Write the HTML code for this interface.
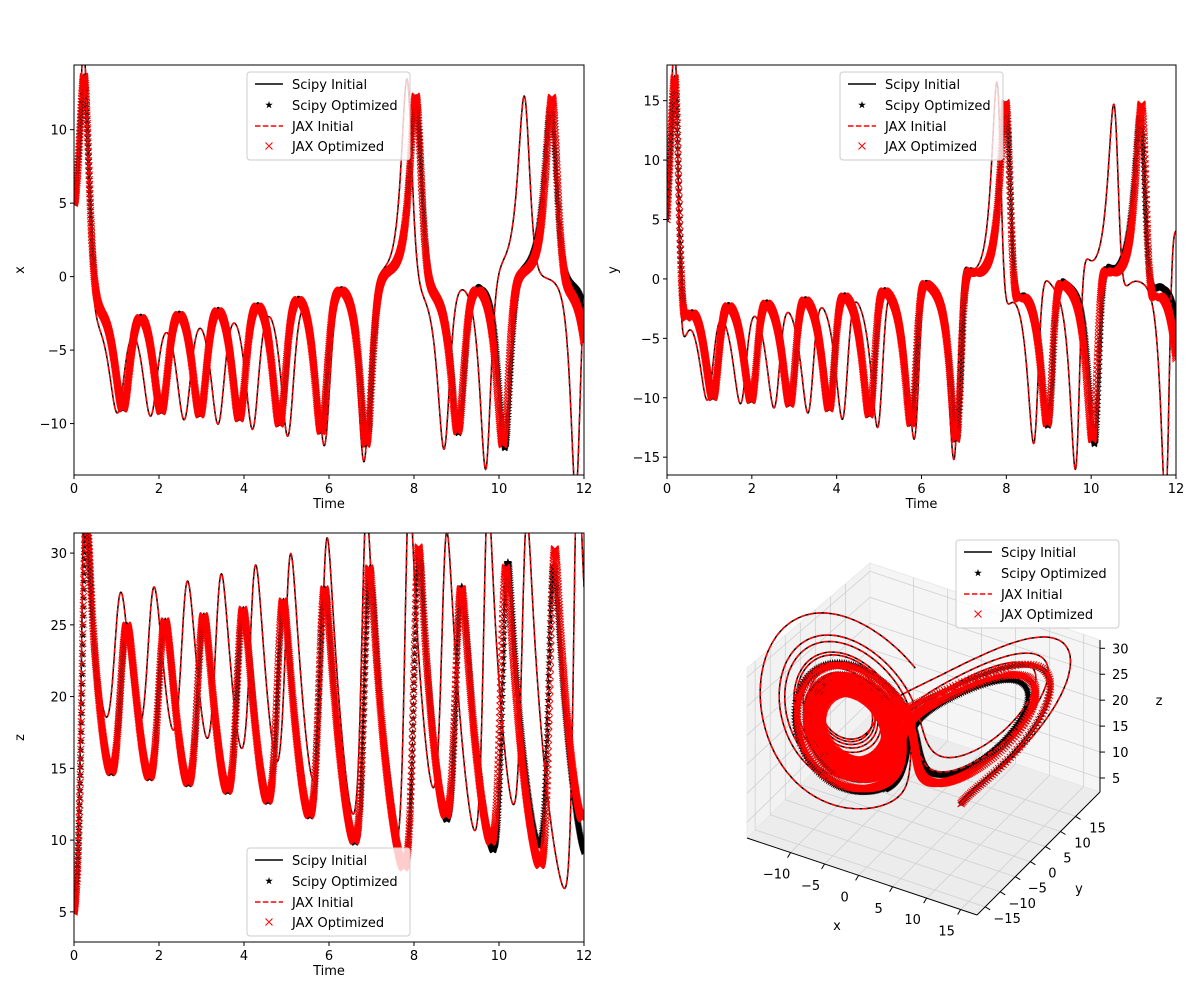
<!DOCTYPE html>
<html><head><meta charset="utf-8">
<style>
html,body{margin:0;padding:0;background:#fff;}
svg{display:block;font-family:"DejaVu Sans","Liberation Sans",sans-serif;}
</style></head>
<body>
<svg id="fig" width="1200" height="1000" viewBox="0 0 1200 1000" xmlns="http://www.w3.org/2000/svg"></svg>
<script>
// ---- data (model parameters and time grid) ----
const timeSpan = [0, 12];
const sampleStep = [0.004];
const initialState = [5, 5, 5];
const initialParams = [10, 24, 2.0];
const scipyOptParams = [10, 21.0, 1.8];
const jaxOptParams = [10, 21.05, 1.8];
const seriesNames = ["Scipy Initial", "Scipy Optimized", "JAX Initial", "JAX Optimized"];
const timeTicks = [0, 2, 4, 6, 8, 10, 12];
const xTicks = [-10, -5, 0, 5, 10];
const yTicks = [-15, -10, -5, 0, 5, 10, 15];
const zTicks = [5, 10, 15, 20, 25, 30];
const x3Ticks = [-10, -5, 0, 5, 10, 15];
const y3Ticks = [-15, -10, -5, 0, 5, 10, 15];
const z3Ticks = [5, 10, 15, 20, 25, 30];

function simulate(p, s0) {
  const [sg, rh, bt] = p;
  const f = (s) => [sg*(s[1]-s[0]), s[0]*(rh-s[2])-s[1], s[0]*s[1]-bt*s[2]];
  const sub = 2, h = sampleStep[0]/sub;
  const n = Math.round((timeSpan[1]-timeSpan[0])/sampleStep[0]);
  let s = s0.slice();
  const T=[],X=[],Y=[],Z=[];
  for (let i=0;i<=n;i++){
    T.push(timeSpan[0]+i*sampleStep[0]); X.push(s[0]); Y.push(s[1]); Z.push(s[2]);
    for (let k=0;k<sub;k++){
      const k1=f(s);
      const k2=f(s.map((v,j)=>v+h/2*k1[j]));
      const k3=f(s.map((v,j)=>v+h/2*k2[j]));
      const k4=f(s.map((v,j)=>v+h*k3[j]));
      s=s.map((v,j)=>v+h/6*(k1[j]+2*k2[j]+2*k3[j]+k4[j]));
    }
  }
  return {T,X,Y,Z};
}
const sInit = simulate(initialParams, initialState);
const sScOpt = simulate(scipyOptParams, initialState);
const sJxOpt = simulate(jaxOptParams, initialState);

const NS="http://www.w3.org/2000/svg";
const fig=document.getElementById('fig');
function el(tag, attrs, parent){
  const e=document.createElementNS(NS,tag);
  for(const k in attrs) e.setAttribute(k,attrs[k]);
  (parent||fig).appendChild(e); return e;
}
function txt(str, x, y, anchor, parent, extra){
  const t=el('text',Object.assign({x:x,y:y,'text-anchor':anchor||'middle','font-size':13,fill:'#000'},extra||{}),parent);
  t.textContent=str; return t;
}
function starPath(cx,cy,r){
  let d='';
  for(let i=0;i<10;i++){
    const rr=i%2?r*0.4:r, a=-Math.PI/2+i*Math.PI/5;
    d+=(i?'L':'M')+(cx+rr*Math.cos(a)).toFixed(1)+' '+(cy+rr*Math.sin(a)).toFixed(1);
  }
  return d+'Z';
}
function xPath(cx,cy,r){
  return `M${(cx-r).toFixed(1)} ${(cy-r).toFixed(1)}L${(cx+r).toFixed(1)} ${(cy+r).toFixed(1)}M${(cx-r).toFixed(1)} ${(cy+r).toFixed(1)}L${(cx+r).toFixed(1)} ${(cy-r).toFixed(1)}`;
}
function drawSeries(g, px, py){
  let d='';
  for(let i=0;i<px[0].length;i++) d+=(i?'L':'M')+px[0][i].toFixed(1)+' '+py[0][i].toFixed(1);
  const l1=el('path',{d:d,fill:'none',stroke:'#000','stroke-width':1.5},g);
  
  
  let ds='';
  for(let i=0;i<px[1].length;i++) ds+=starPath(px[1][i],py[1][i],4);
  const m1=el('path',{d:ds,fill:'#000',stroke:'none'},g);
  
  
  let d2='';
  for(let i=0;i<px[2].length;i++) d2+=(i?'L':'M')+px[2][i].toFixed(1)+' '+py[2][i].toFixed(1);
  const l2=el('path',{d:d2,fill:'none',stroke:'#ff0000','stroke-width':1.5,'stroke-dasharray':'5.5,2.4'},g);
  
  
  let dx='';
  for(let i=0;i<px[3].length;i++) dx+=xPath(px[3][i],py[3][i],3.5);
  const m2=el('path',{d:dx,fill:'none',stroke:'#ff0000','stroke-width':1},g);
  
  
}
function legend(x,y,name){
  const g=el('g',{});
  
  
  el('rect',{x:x,y:y,width:163,height:88,rx:3,fill:'#fff','fill-opacity':0.8,stroke:'#ccc','stroke-width':1},g);
  const rows=[y+12,y+33,y+54,y+74];
  el('line',{x1:x+8,y1:rows[0],x2:x+36,y2:rows[0],stroke:'#000','stroke-width':1.5},g);
  el('path',{d:starPath(x+22,rows[1],4),fill:'#000'},g);
  el('line',{x1:x+8,y1:rows[2],x2:x+36,y2:rows[2],stroke:'#f00','stroke-width':1.5,'stroke-dasharray':'5.5,2.4'},g);
  el('path',{d:xPath(x+22,rows[3],3.5),stroke:'#f00','stroke-width':1,fill:'none'},g);
  seriesNames.forEach((n,i)=>{
    const t=txt(n,x+45,rows[i]+5,'start',g);
    
    
  });
}
let clipId=0;
function panel(box, yr, yticks, comp, ylabel, name){
  const [L,T,R,B]=box;
  const sx=v=>L+(v-timeSpan[0])/(timeSpan[1]-timeSpan[0])*(R-L);
  const sy=v=>B-(v-yr[0])/(yr[1]-yr[0])*(B-T);
  const g=el('g',{});
  
  
  const cid='c'+(clipId++);
  const cp=el('clipPath',{id:cid},g);
  el('rect',{x:L,y:T,width:R-L,height:B-T},cp);
  const pg=el('g',{'clip-path':`url(#${cid})`},g);
  const src=[sInit,sScOpt,sInit,sJxOpt];
  drawSeries(pg, src.map(s=>s.T.map(sx)), src.map(s=>s[comp].map(sy)));
  el('rect',{x:L,y:T,width:R-L,height:B-T,fill:'none',stroke:'#000','stroke-width':1},g);
  timeTicks.forEach(v=>{
    el('line',{x1:sx(v),y1:B,x2:sx(v),y2:B+4,stroke:'#000'},g);
    const t=txt(String(v),sx(v),B+18,'middle',g);
    
    
  });
  yticks.forEach(v=>{
    if(v<yr[0]||v>yr[1]) return;
    el('line',{x1:L-4,y1:sy(v),x2:L,y2:sy(v),stroke:'#000'},g);
    const t=txt(v<0?'\u2212'+Math.abs(v):String(v),L-7,sy(v)+5,'end',g);
    
    
  });
  const xl=txt('Time',(L+R)/2,B+33,'middle',g);
  
  
  const yl=txt(ylabel,0,0,'middle',g,{transform:`translate(${L-50},${(T+B)/2}) rotate(-90)`});
  
  
}
panel([74,65,584,475],[-13.5,14.4],xTicks,'X','x','x-vs-time-panel');
legend(247,72,'legend-x');
panel([667,65,1176,475],[-16.5,18],yTicks,'Y','y','y-vs-time-panel');
legend(840,72,'legend-y');
panel([74,533,584,942],[2.9,31.4],zTicks,'Z','z','z-vs-time-panel');
legend(247,848,'legend-z');

// ---- 3D panel ----
const xr=[-16.4,17.4], yr3=[-17.7,23.1], zr=[2.3,31.6];
function P(x,y,z){
  const u=(x-xr[0])/(xr[1]-xr[0]), v=(y-yr3[0])/(yr3[1]-yr3[0]), w=(z-zr[0])/(zr[1]-zr[0]);
  const H=170-18*v;
  return [747+u*230+v*123, 838+u*77-v*123-w*H];
}
const g3=el('g',{});


function poly(pts,fill){
  return el('path',{d:pts.map((p,i)=>(i?'L':'M')+p[0].toFixed(1)+' '+p[1].toFixed(1)).join('')+'Z',fill:fill,stroke:'#e6e6e6','stroke-width':0.8},g3);
}
poly([P(xr[0],yr3[0],zr[0]),P(xr[1],yr3[0],zr[0]),P(xr[1],yr3[1],zr[0]),P(xr[0],yr3[1],zr[0])],'#ececec');
poly([P(xr[0],yr3[0],zr[0]),P(xr[0],yr3[1],zr[0]),P(xr[0],yr3[1],zr[1]),P(xr[0],yr3[0],zr[1])],'#f2f2f2');
poly([P(xr[0],yr3[1],zr[0]),P(xr[1],yr3[1],zr[0]),P(xr[1],yr3[1],zr[1]),P(xr[0],yr3[1],zr[1])],'#f5f5f5');
function gl(a,b){el('line',{x1:a[0],y1:a[1],x2:b[0],y2:b[1],stroke:'#d0d0d0','stroke-width':0.8},g3);}
x3Ticks.forEach(v=>{gl(P(v,yr3[0],zr[0]),P(v,yr3[1],zr[0]));gl(P(v,yr3[1],zr[0]),P(v,yr3[1],zr[1]));});
y3Ticks.forEach(v=>{gl(P(xr[0],v,zr[0]),P(xr[1],v,zr[0]));gl(P(xr[0],v,zr[0]),P(xr[0],v,zr[1]));});
z3Ticks.forEach(v=>{gl(P(xr[0],yr3[0],v),P(xr[0],yr3[1],v));gl(P(xr[0],yr3[1],v),P(xr[1],yr3[1],v));});
function al(a,b){el('line',{x1:a[0],y1:a[1],x2:b[0],y2:b[1],stroke:'#000','stroke-width':1},g3);}
al(P(xr[0],yr3[0],zr[0]),P(xr[1],yr3[0],zr[0]));
al(P(xr[1],yr3[0],zr[0]),P(xr[1],yr3[1],zr[0]));
al(P(xr[1],yr3[1],zr[0]),P(xr[1],yr3[1],zr[1]));
x3Ticks.forEach(v=>{const p=P(v,yr3[0],zr[0]);al(p,[p[0]-3,p[1]+5]);
  const t=txt(v<0?'\u2212'+Math.abs(v):String(v),p[0]-14,p[1]+26,'middle',g3);
  
  });
y3Ticks.forEach(v=>{const p=P(xr[1],v,zr[0]);al(p,[p[0]+5,p[1]+3]);
  const t=txt(v<0?'\u2212'+Math.abs(v):String(v),p[0]+22,p[1]+16,'middle',g3);
  
  });
z3Ticks.forEach(v=>{const p=P(xr[1],yr3[1],v);al(p,[p[0]+5,p[1]]);
  const t=txt(String(v),p[0]+12,p[1]+5,'start',g3);
  
  });
const xl3=txt('x',837,930,'middle',g3);


const yl3=txt('y',1079,893,'middle',g3);


const zl3=txt('z',1159,705,'middle',g3);


{
  const src=[sInit,sScOpt,sInit,sJxOpt];
  const pts=src.map(s=>s.X.map((x,i)=>P(x,s.Y[i],s.Z[i])));
  drawSeries(g3, pts.map(a=>a.map(p=>p[0])), pts.map(a=>a.map(p=>p[1])));
}
legend(956,540,'legend-3d');
</script>
</body></html>
